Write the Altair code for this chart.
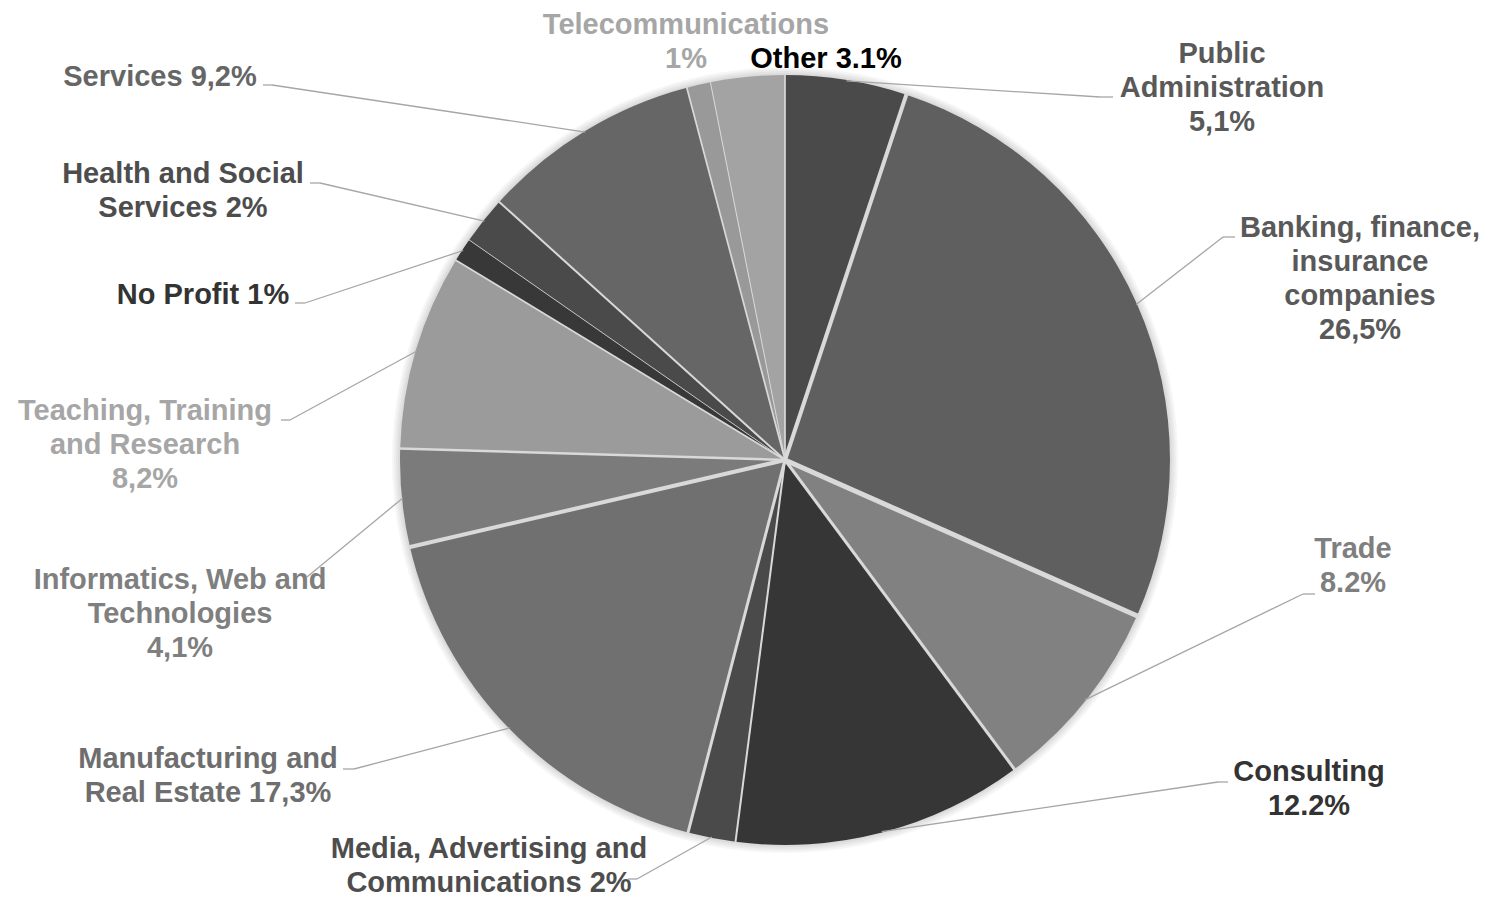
import math
import altair as alt
import pandas as pd

# ---------------- data ----------------
categories = [
    "Public Administration", "Banking, finance, insurance companies", "Trade",
    "Consulting", "Media, Advertising and Communications", "Manufacturing and Real Estate",
    "Informatics, Web and Technologies", "Teaching, Training and Research", "No Profit",
    "Health and Social Services", "Services", "Telecommunications", "Other",
]
values = [5.1, 26.5, 8.2, 12.2, 2.0, 17.3, 4.1, 8.2, 1.0, 2.0, 9.2, 1.0, 3.1]
labels = [
    "Public|Administration|5,1%",
    "Banking, finance,|insurance|companies|26,5%",
    "Trade|8.2%",
    "Consulting|12.2%",
    "Media, Advertising and|Communications 2%",
    "Manufacturing and|Real Estate 17,3%",
    "Informatics, Web and|Technologies|4,1%",
    "Teaching, Training|and Research|8,2%",
    "No Profit 1%",
    "Health and Social|Services 2%",
    "Services 9,2%",
    "Telecommunications|1%",
    "Other 3.1%",
]

# ---------------- styles / layout ----------------
slice_colors = ["#4a4a4a", "#5f5f5f", "#818181", "#363636", "#4a4a4a", "#707070",
                "#7b7b7b", "#9b9b9b", "#383838", "#4a4a4a", "#666666", "#999999", "#a3a3a3"]
text_colors = ["#595959", "#595959", "#7f7f7f", "#333333", "#4d4d4d", "#6e6e6e",
               "#7f7f7f", "#a6a6a6", "#333333", "#4d4d4d", "#666666", "#a6a6a6", "#000000"]
sep_widths = [4, 5, 3, 2, 3, 4, 2.5, 1.7, 0.8, 2, 1.7, 1, 1.7]

M = 8  # page margin
CX, CY, R = 785 - M, 460 - M, 385
LH = 34  # line height of labels
# label block centres (page px)
label_x = [1222, 1360, 1353, 1309, 489, 208, 180, 145, 203, 183, 160, 686, 826]
label_y = [88, 279, 566, 789, 866, 776, 614, 445, 295, 191, 77, 42, 59]
# leader elbow and tail (page px); Telecommunications and Other have none
has_leader = [1, 1, 1, 1, 1, 1, 1, 1, 1, 1, 1, 0, 0]
elbow_x = [1100, 1223, 1303, 1218, 637, 354, 307, 290, 305, 320, 272, 0, 0]
elbow_y = [97, 237, 594, 782, 879, 769, 577, 420, 303, 183, 85, 0, 0]
tail_x = [1113, 1235, 1315, 1228, 628, 343, 307, 281, 295, 310, 263, 0, 0]

df = pd.DataFrame({
    "idx": list(range(len(values))),
    "category": categories,
    "value": values,
    "label": labels,
    "fill": slice_colors,
    "tcolor": text_colors,
    "sepw": sep_widths,
    "lx": [v - M for v in label_x],
    "ly": [v - M for v in label_y],
    "lead": has_leader,
    "ex": [v - M for v in elbow_x],
    "ey": [v - M for v in elbow_y],
    "tx": [v - M for v in tail_x],
})

base = alt.Chart(df).transform_window(
    cum="sum(value)", sort=[alt.SortField("idx")], frame=[None, 0]
).transform_joinaggregate(
    total="sum(value)"
).transform_calculate(
    a0="2*PI*(datum.cum - datum.value)/datum.total",
    a1="2*PI*datum.cum/datum.total",
).transform_calculate(
    am="(datum.a0 + datum.a1)/2",
    cx=f"{CX}",
    cy=f"{CY}",
    bx=f"{CX} + {R + 1}*sin(datum.a1)",
    by=f"{CY} - {R + 1}*cos(datum.a1)",
    mx=f"{CX} + {R - 1}*sin(datum.am)",
    my=f"{CY} - {R - 1}*cos(datum.am)",
)

# soft shadow around the pie
shadow_radii = [393, 391, 389, 387]
one = pd.DataFrame({"k": [0]})
shadows = [
    alt.Chart(one).mark_arc(
        theta=0, theta2=2 * math.pi, outerRadius=r, color="#000000", opacity=0.035
    ).encode(x=alt.value(CX), y=alt.value(CY))
    for r in shadow_radii
]

slices = base.mark_arc(outerRadius=R).encode(
    theta=alt.Theta("a0:Q", scale=None),
    theta2="a1:Q",
    color=alt.Color("fill:N", scale=None),
    x=alt.value(CX), y=alt.value(CY),
)

separators = base.mark_rule(color="#d9d9d9").encode(
    x=alt.X("cx:Q", scale=None), y=alt.Y("cy:Q", scale=None),
    x2="bx:Q", y2="by:Q",
    strokeWidth=alt.StrokeWidth("sepw:Q", scale=None),
)

leader1 = base.transform_filter("datum.lead == 1").mark_rule(
    color="#a6a6a6", strokeWidth=1.3
).encode(
    x=alt.X("mx:Q", scale=None), y=alt.Y("my:Q", scale=None),
    x2="ex:Q", y2="ey:Q",
)
leader2 = base.transform_filter("datum.lead == 1").mark_rule(
    color="#a6a6a6", strokeWidth=1.3
).encode(
    x=alt.X("ex:Q", scale=None), y=alt.Y("ey:Q", scale=None),
    x2="tx:Q", y2="ey:Q",
)

texts = base.transform_calculate(
    lines="split(datum.label, '|')"
).transform_calculate(
    ly0=f"datum.ly - (length(datum.lines) - 1) * {LH} / 2"
).mark_text(
    font="Liberation Sans", fontWeight="bold", fontSize=29,
    lineHeight=LH, align="center", baseline="middle",
).encode(
    x=alt.X("lx:Q", scale=None), y=alt.Y("ly0:Q", scale=None),
    text="lines:N",
    color=alt.Color("tcolor:N", scale=None),
)

chart = alt.layer(*shadows, slices, separators, leader1, leader2, texts).properties(
    width=1480, height=891,
    autosize=alt.AutoSizeParams(type="none"),
    padding=0,
    background="white",
).configure_view(stroke=None)

chart.save("out.html", embed_options={"renderer": "svg", "actions": False})
